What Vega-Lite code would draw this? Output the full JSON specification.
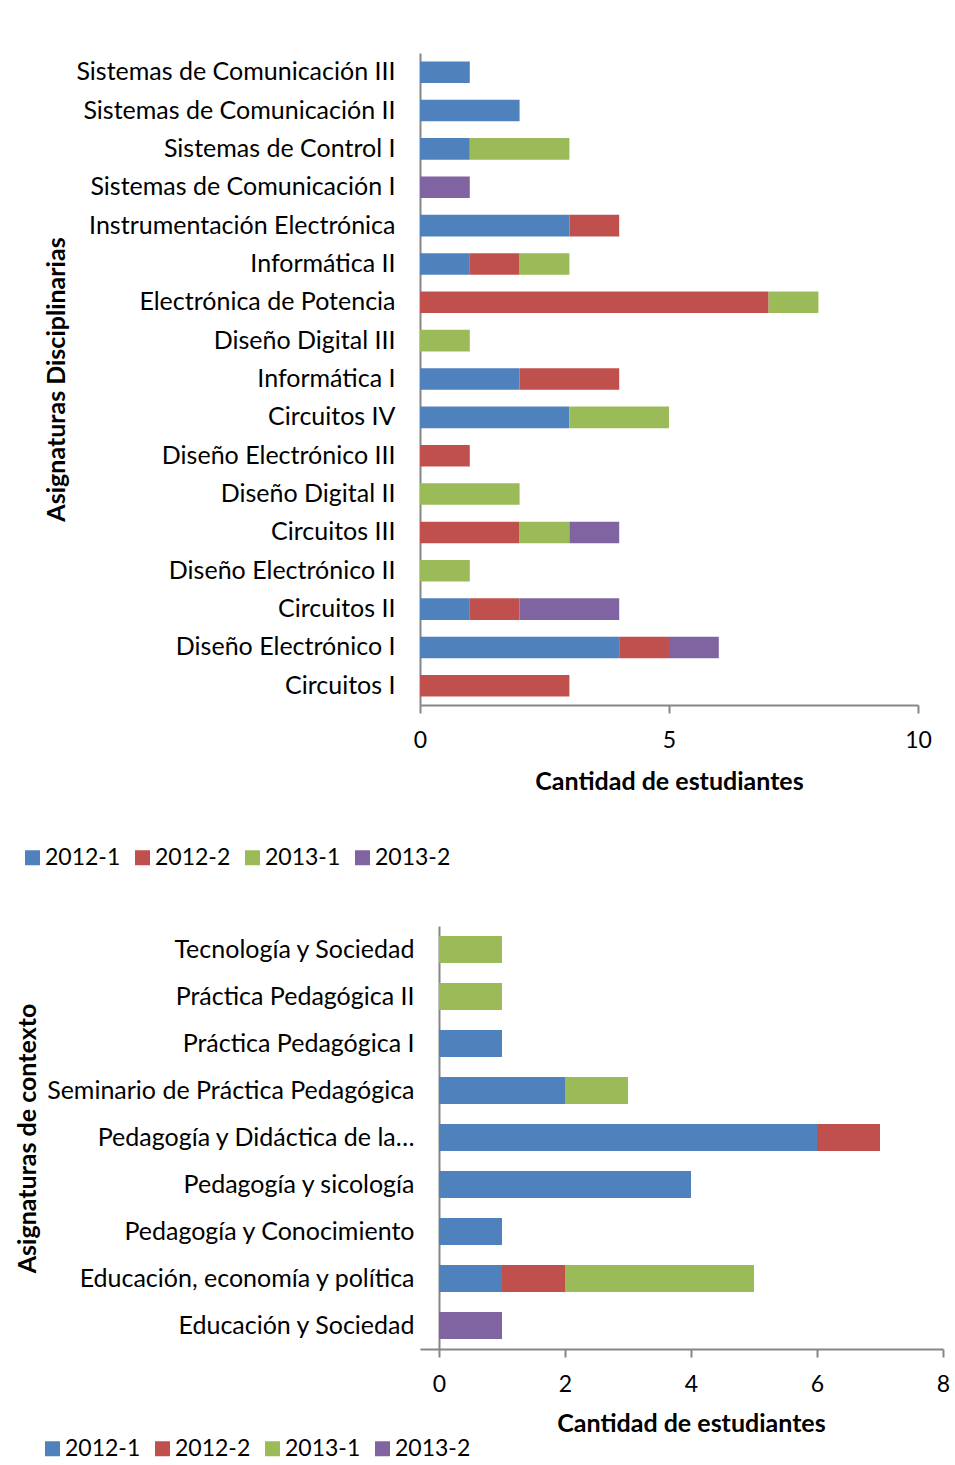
{
  "$schema": "https://vega.github.io/schema/vega-lite/v6.json",
  "padding": {"left": 6, "top": 53, "right": 0, "bottom": 0},
  "background": "white",
  "config": {
    "font": "Lato",
    "view": {"stroke": null},
    "axis": {"labelColor": "#000000", "titleColor": "#000000", "domainColor": "#868686", "domainWidth": 2, "tickColor": "#868686", "tickWidth": 2, "grid": false},
    "legend": {"labelColor": "#000000"}
  },
  "datasets": {
    "disciplinarias": [
      {"asignatura": "Sistemas de Comunicación III", "periodo": "2012-1", "n": 1},
      {"asignatura": "Sistemas de Comunicación II", "periodo": "2012-1", "n": 2},
      {"asignatura": "Sistemas de Control I", "periodo": "2012-1", "n": 1},
      {"asignatura": "Sistemas de Control I", "periodo": "2013-1", "n": 2},
      {"asignatura": "Sistemas de Comunicación I", "periodo": "2013-2", "n": 1},
      {"asignatura": "Instrumentación Electrónica", "periodo": "2012-1", "n": 3},
      {"asignatura": "Instrumentación Electrónica", "periodo": "2012-2", "n": 1},
      {"asignatura": "Informática II", "periodo": "2012-1", "n": 1},
      {"asignatura": "Informática II", "periodo": "2012-2", "n": 1},
      {"asignatura": "Informática II", "periodo": "2013-1", "n": 1},
      {"asignatura": "Electrónica de Potencia", "periodo": "2012-2", "n": 7},
      {"asignatura": "Electrónica de Potencia", "periodo": "2013-1", "n": 1},
      {"asignatura": "Diseño Digital III", "periodo": "2013-1", "n": 1},
      {"asignatura": "Informática I", "periodo": "2012-1", "n": 2},
      {"asignatura": "Informática I", "periodo": "2012-2", "n": 2},
      {"asignatura": "Circuitos IV", "periodo": "2012-1", "n": 3},
      {"asignatura": "Circuitos IV", "periodo": "2013-1", "n": 2},
      {"asignatura": "Diseño Electrónico III", "periodo": "2012-2", "n": 1},
      {"asignatura": "Diseño Digital II", "periodo": "2013-1", "n": 2},
      {"asignatura": "Circuitos III", "periodo": "2012-2", "n": 2},
      {"asignatura": "Circuitos III", "periodo": "2013-1", "n": 1},
      {"asignatura": "Circuitos III", "periodo": "2013-2", "n": 1},
      {"asignatura": "Diseño Electrónico II", "periodo": "2013-1", "n": 1},
      {"asignatura": "Circuitos II", "periodo": "2012-1", "n": 1},
      {"asignatura": "Circuitos II", "periodo": "2012-2", "n": 1},
      {"asignatura": "Circuitos II", "periodo": "2013-2", "n": 2},
      {"asignatura": "Diseño Electrónico I", "periodo": "2012-1", "n": 4},
      {"asignatura": "Diseño Electrónico I", "periodo": "2012-2", "n": 1},
      {"asignatura": "Diseño Electrónico I", "periodo": "2013-2", "n": 1},
      {"asignatura": "Circuitos I", "periodo": "2012-2", "n": 3}
    ],
    "contexto": [
      {"asignatura": "Tecnología y Sociedad", "periodo": "2013-1", "n": 1},
      {"asignatura": "Práctica Pedagógica II", "periodo": "2013-1", "n": 1},
      {"asignatura": "Práctica Pedagógica I", "periodo": "2012-1", "n": 1},
      {"asignatura": "Seminario de Práctica Pedagógica", "periodo": "2012-1", "n": 2},
      {"asignatura": "Seminario de Práctica Pedagógica", "periodo": "2013-1", "n": 1},
      {"asignatura": "Pedagogía y Didáctica de la…", "periodo": "2012-1", "n": 6},
      {"asignatura": "Pedagogía y Didáctica de la…", "periodo": "2012-2", "n": 1},
      {"asignatura": "Pedagogía y sicología", "periodo": "2012-1", "n": 4},
      {"asignatura": "Pedagogía y Conocimiento", "periodo": "2012-1", "n": 1},
      {"asignatura": "Educación, economía y política", "periodo": "2012-1", "n": 1},
      {"asignatura": "Educación, economía y política", "periodo": "2012-2", "n": 1},
      {"asignatura": "Educación, economía y política", "periodo": "2013-1", "n": 3},
      {"asignatura": "Educación y Sociedad", "periodo": "2013-2", "n": 1}
    ]
  },
  "spacing": 41,
  "resolve": {"scale": {"color": "independent", "x": "independent", "y": "independent"}, "legend": {"color": "independent"}},
  "vconcat": [
    {
      "data": {"name": "disciplinarias"},
      "width": 498,
      "height": 652,
      "mark": {"type": "bar"},
      "encoding": {
        "y": {
          "field": "asignatura", "type": "nominal",
          "sort": ["Sistemas de Comunicación III", "Sistemas de Comunicación II", "Sistemas de Control I", "Sistemas de Comunicación I", "Instrumentación Electrónica", "Informática II", "Electrónica de Potencia", "Diseño Digital III", "Informática I", "Circuitos IV", "Diseño Electrónico III", "Diseño Digital II", "Circuitos III", "Diseño Electrónico II", "Circuitos II", "Diseño Electrónico I", "Circuitos I"],
          "scale": {"paddingInner": 0.4375, "paddingOuter": 0.21875},
          "axis": {"title": "Asignaturas Disciplinarias", "titleFontSize": 25, "titleFontWeight": "bold", "titleX": -351, "titleY": 326, "labelFontSize": 25, "labelPadding": 25, "ticks": false, "labelLimit": 600}
        },
        "x": {
          "field": "n", "type": "quantitative", "stack": "zero",
          "scale": {"domain": [0, 10], "nice": false},
          "axis": {"title": "Cantidad de estudiantes", "values": [0, 5, 10], "labelFlush": false, "titleFontSize": 25, "titleFontWeight": "bold", "titlePadding": 17, "labelFontSize": 23, "labelPadding": 16, "tickSize": 8}
        },
        "color": {
          "field": "periodo", "type": "nominal",
          "scale": {"domain": ["2012-1", "2012-2", "2013-1", "2013-2"], "range": ["#4F81BD", "#C0504D", "#9BBB59", "#8064A2"]},
          "legend": {"title": null, "orient": "none", "direction": "horizontal", "legendX": -414, "legendY": 778, "padding": 15, "symbolType": "square", "symbolSize": 225, "symbolStrokeWidth": 0, "labelFontSize": 23, "columnPadding": 10, "labelOffset": 1}
        },
        "order": {"field": "periodo", "sort": "ascending"}
      }
    },
    {
      "data": {"name": "contexto"},
      "width": 523,
      "height": 423,
      "mark": {"type": "bar"},
      "encoding": {
        "y": {
          "field": "asignatura", "type": "nominal",
          "sort": ["Tecnología y Sociedad", "Práctica Pedagógica II", "Práctica Pedagógica I", "Seminario de Práctica Pedagógica", "Pedagogía y Didáctica de la…", "Pedagogía y sicología", "Pedagogía y Conocimiento", "Educación, economía y política", "Educación y Sociedad"],
          "scale": {"paddingInner": 0.43, "paddingOuter": 0.215},
          "axis": {"title": "Asignaturas de contexto", "offset": -19, "titleFontSize": 25, "titleFontWeight": "bold", "titleX": -399, "titleY": 212, "labelFontSize": 25, "labelPadding": 25, "ticks": false, "labelLimit": 600}
        },
        "x": {
          "field": "n", "type": "quantitative", "stack": "zero",
          "scale": {"domain": [-0.3015873, 8], "nice": false, "zero": false},
          "axis": {"title": "Cantidad de estudiantes", "values": [0, 2, 4, 6, 8], "labelFlush": false, "titleFontSize": 25, "titleFontWeight": "bold", "titleX": 271, "titleY": 62, "labelFontSize": 23, "labelPadding": 16, "tickSize": 8}
        },
        "color": {
          "field": "periodo", "type": "nominal",
          "scale": {"domain": ["2012-1", "2012-2", "2013-1", "2013-2"], "range": ["#4F81BD", "#C0504D", "#9BBB59", "#8064A2"]},
          "legend": {"title": null, "orient": "none", "direction": "horizontal", "legendX": -379, "legendY": 511, "padding": 0, "symbolType": "square", "symbolSize": 225, "symbolStrokeWidth": 0, "labelFontSize": 23, "columnPadding": 10, "labelOffset": 1}
        },
        "order": {"field": "periodo", "sort": "ascending"}
      }
    }
  ]
}
